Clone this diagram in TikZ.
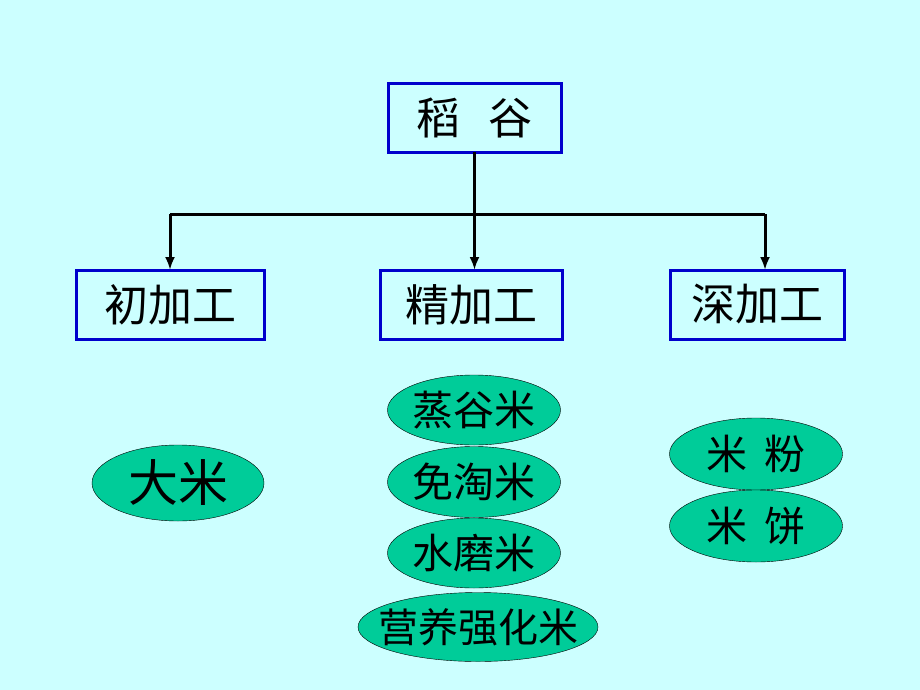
\documentclass[tikz,border=0pt]{standalone}
\usepackage{fontspec}
\newfontfamily\cjk{Noto Sans CJK SC}
\usetikzlibrary{positioning,shapes.geometric,arrows.meta}
\definecolor{bgcyan}{HTML}{CCFFFF}
\definecolor{boxblue}{HTML}{0000CC}
\definecolor{grainfill}{HTML}{00CC99}

\begin{document}
\begin{tikzpicture}[>={Latex[length=13pt,width=10pt]},x=1pt,y=-1pt,font=\cjk,
	procbox/.style={draw=boxblue,line width=3pt,fill=bgcyan,outer sep=0pt,inner sep=0pt,font=\cjk\fontsize{44}{44}\selectfont},
	product/.style={ellipse,draw=black,thin,fill=grainfill,inner ysep=0pt,inner xsep=-18pt,font=\cjk\fontsize{41}{41}\selectfont},
	link/.style={line width=3pt}]
	\fill [bgcyan] (0,0) rectangle (920,690);
	\useasboundingbox (0,0) rectangle (920,690);
	\node [procbox,minimum width=173pt,minimum height=68pt] at (474.5,118) (rice) {稻\hspace{0.65em}谷};
	\node [procbox,minimum width=188pt,minimum height=69pt] at (170,304.5) (primary) {初加工};
	\node [procbox,minimum width=182pt,minimum height=69pt] at (471,304.5) (fine) {精加工};
	\node [procbox,minimum width=174pt,minimum height=69pt] at (757,304.5) (deep) {深加工};
	\coordinate (split) at (rice.south |- 0,214);
	\coordinate (deepin) at ([xshift=8pt]deep.north);
	\draw [link] (primary.north |- split) -- (deepin |- split);
	\draw [link,->] (rice.south) -- (rice.south |- fine.north);
	\draw [link,->] (primary.north |- split) -- (primary.north);
	\draw [link,->] (deepin |- split) -- (deepin);
	% products
	\node [product,minimum width=172pt,minimum height=76pt,font=\cjk\fontsize{50}{50}\selectfont] at (178,483) (bigrice) {大米};
	\node [product,minimum width=173pt,minimum height=70pt] at (474,410) (steamed) {蒸谷米};
	\node [product,minimum width=173pt,minimum height=71pt] at (474,482) (nowash) {免淘米};
	\node [product,minimum width=173pt,minimum height=70pt] at (474,553) (ground) {水磨米};
	\node [product,minimum width=240pt,minimum height=69pt,font=\cjk\fontsize{40}{40}\selectfont,inner xsep=-20pt] at (478,627) (fortified) {营养强化米};
	\node [product,minimum width=173pt,minimum height=72pt] at (756,454) (flour) {米\hspace{0.4em}粉};
	\node [product,minimum width=173pt,minimum height=72pt] at (756,526) (cake) {米\hspace{0.4em}饼};
\end{tikzpicture}
\end{document}
